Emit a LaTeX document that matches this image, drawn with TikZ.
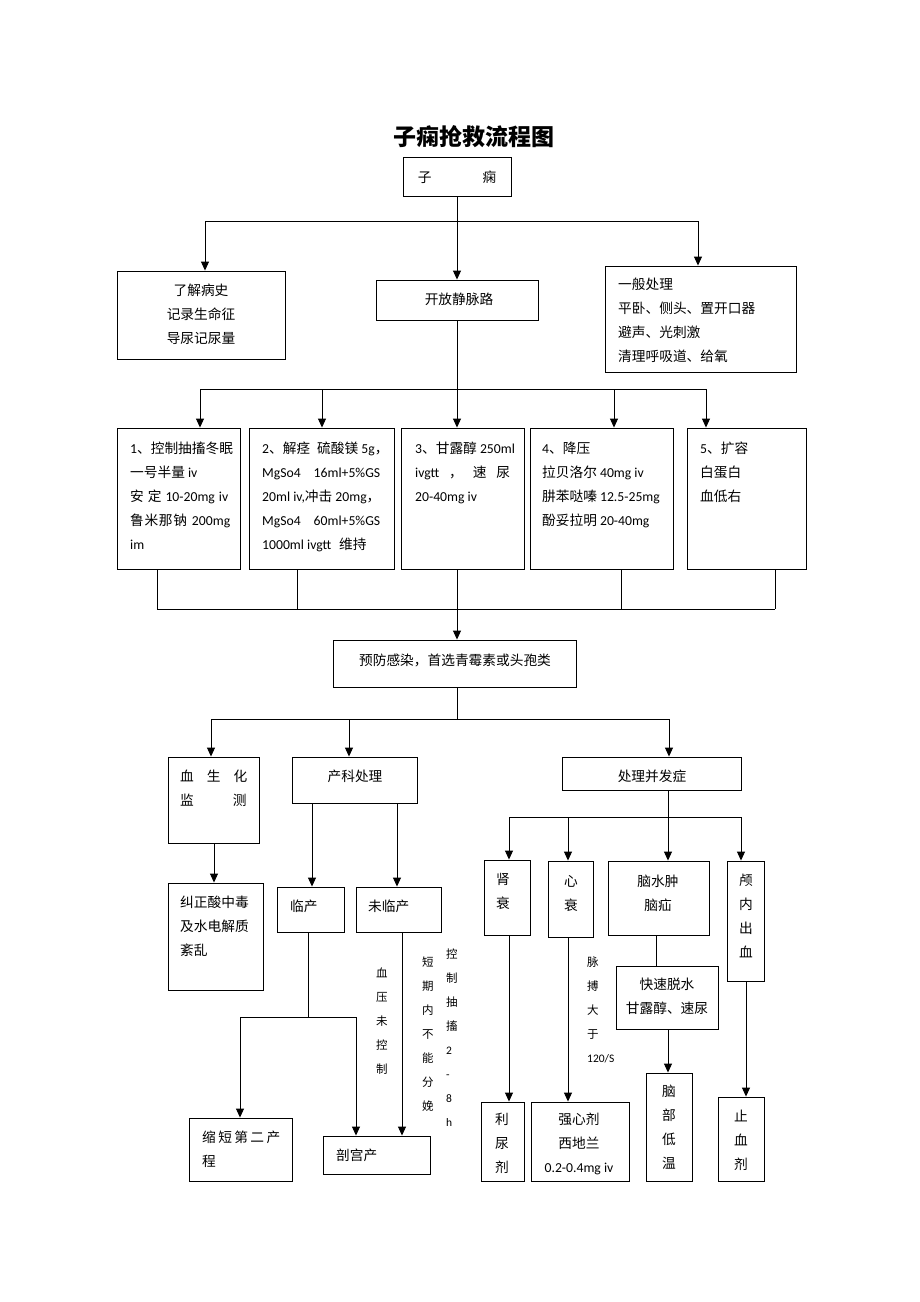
\documentclass[tikz,border=0pt]{standalone}
\usepackage{fontspec}
\setmainfont{Noto Sans CJK SC}
\newfontfamily\latf{Carlito}
\newcommand\LT[1]{{\latf #1}}
\usetikzlibrary{arrows.meta,fit}
\begin{document}
\begin{tikzpicture}[x=1pt,y=-1pt,
  bx/.style={draw, line width=0.9pt, inner sep=0pt},
  arr/.style={line width=1pt, -{Triangle[length=9pt,width=8pt]}},
  ln/.style={line width=1pt},
  txt/.style={inner sep=0pt, anchor=north, yshift=11.6pt, align=center, font=\fontsize{13.7}{24}\selectfont},
  txtl/.style={txt, anchor=north west, align=left},
  vtx/.style={txtl, font=\fontsize{11.5}{24}\selectfont}
  ]
\fill[white] (0,0) rectangle (920,1302);
\useasboundingbox (0,0) rectangle (920,1302);

% title
\node[inner sep=0pt, font=\fontsize{23}{28}\bfseries\selectfont] (title) at (474,137) {子痫抢救流程图};

% boxes
\node[bx, fit={(403,157)(511,196)}] (zi) {};
\node[bx, fit={(117,271)(285,359)}] (liao) {};
\node[bx, fit={(376,280)(538,320)}] (kai) {};
\node[bx, fit={(605,266)(796,372)}] (yiban) {};
\node[bx, fit={(117,428)(240,569)}] (b1) {};
\node[bx, fit={(249,428)(394,569)}] (b2) {};
\node[bx, fit={(401,428)(524,569)}] (b3) {};
\node[bx, fit={(530,428)(673,569)}] (b4) {};
\node[bx, fit={(687,428)(806,569)}] (b5) {};
\node[bx, fit={(333,640)(576,687)}] (yu) {};
\node[bx, fit={(168,757)(259,843)}] (xue) {};
\node[bx, fit={(292,757)(417,803)}] (chan) {};
\node[bx, fit={(562,757)(741,790)}] (chuli) {};
\node[bx, fit={(168,883)(263,990)}] (jiu) {};
\node[bx, fit={(277,887)(344,932)}] (lin) {};
\node[bx, fit={(356,887)(441,932)}] (wei) {};
\node[bx, fit={(189,1118)(292,1181)}] (suo) {};
\node[bx, fit={(323,1136)(430,1174)}] (pou) {};
\node[bx, fit={(484,860)(530,935)}] (shen) {};
\node[bx, fit={(548,861)(593,937)}] (xin) {};
\node[bx, fit={(608,861)(709,935)}] (nao) {};
\node[bx, fit={(727,861)(764,981)}] (lu) {};
\node[bx, fit={(481,1102)(524,1181)}] (li) {};
\node[bx, fit={(531,1102)(629,1181)}] (qiang) {};
\node[bx, fit={(616,966)(718,1029)}] (kuai) {};
\node[bx, fit={(646,1073)(692,1181)}] (naobu) {};
\node[bx, fit={(718,1097)(764,1181)}] (zhi) {};

% texts
\node[txt] at (457,177) {\strut 子\hspace{51pt}痫};
\node[txt] at (201,290) {\strut 了解病史\\记录生命征\\导尿记尿量};
\node[txt] at (459,299) {\strut 开放静脉路};
\node[txtl] at (618,284) {\strut 一般处理\\平卧、侧头、置开口器\\避声、光刺激\\清理呼吸道、给氧};
\node[txtl] at (130,448) {\strut\LT{1}、控制抽搐冬眠\\一号半量 \LT{iv}\\\makebox[98pt][s]{安\hfil 定\hfil\LT{10-20mg}\hfil\LT{iv}}\\\makebox[100pt][s]{鲁\hfil 米\hfil 那\hfil 钠\hspace{5pt}\LT{200mg}}\\\LT{im}};
\node[txtl] at (262,448) {\strut\LT{2}、解痉\hspace{7pt}硫酸镁 \LT{5g}，\\\makebox[118pt][s]{\LT{MgSo4}\hfil\LT{16ml+5\%GS}}\\\LT{20ml iv,}冲击 \LT{20mg}，\\\makebox[118pt][s]{\LT{MgSo4}\hfil\LT{60ml+5\%GS}}\\\LT{1000ml ivgtt}\hspace{8pt}维持};
\node[txtl] at (415,448) {\strut\LT{3}、甘露醇 \LT{250ml}\\\makebox[95pt][s]{\LT{ivgtt}\hfil，\hfil 速\hfil 尿}\\\LT{20-40mg iv}};
\node[txtl] at (542,448) {\strut\LT{4}、降压\\拉贝洛尔 \LT{40mg iv}\\肼苯哒嗪 \LT{12.5-25mg}\\酚妥拉明 \LT{20-40mg}};
\node[txtl] at (700,448) {\strut\LT{5}、扩容\\白蛋白\\血低右};
\node[txt] at (455,660) {\strut 预防感染，首选青霉素或头孢类};
\node[txtl] at (180,776) {\strut 血\hspace{13pt}生\hspace{13pt}化\\监\hspace{39pt}测};
\node[txt] at (355,776) {\strut 产科处理};
\node[txt] at (652,776) {\strut 处理并发症};
\node[txtl] at (180,902) {\strut 纠正酸中毒\\及水电解质\\紊乱};
\node[txtl] at (290,906) {\strut 临产};
\node[txtl] at (368,906) {\strut 未临产};
\node[txtl] at (202,1137) {\strut 缩\hspace{2.4pt}短\hspace{2.4pt}第\hspace{2.4pt}二\hspace{2.4pt}产\\程};
\node[txtl] at (336,1155) {\strut 剖宫产};
\node[vtx] at (376,972) {\strut 血\\压\\未\\控\\制};
\node[vtx] at (422,961) {\strut 短\\期\\内\\不\\能\\分\\娩};
\node[vtx] at (446,953) {\strut 控\\制\\抽\\搐\\\LT{2}\\\LT{-}\\\LT{8}\\\LT{h}};
\node[txt] at (503,879) {\strut 肾\\衰};
\node[txt] at (571,881) {\strut 心\\衰};
\node[txt] at (658,881) {\strut 脑水肿\\脑疝};
\node[txt] at (746,880) {\strut 颅\\内\\出\\血};
\node[txt] at (502,1119) {\strut 利\\尿\\剂};
\node[txt] at (579,1119) {\strut 强心剂\\西地兰\\\LT{0.2-0.4mg iv}};
\node[vtx] at (587,961) {\strut 脉\\搏\\大\\于\\\LT{120/S}};
\node[txt] at (667,984) {\strut 快速脱水\\甘露醇、速尿};
\node[txt] at (669,1091) {\strut 脑\\部\\低\\温};
\node[txt] at (741,1116) {\strut 止\\血\\剂};

% connectors: top
\coordinate (t1) at (457,221);
\coordinate (t1l) at (205,221);
\coordinate (t1r) at (698,221);
\draw[ln] (zi.south) -- (t1);
\draw[ln] (t1l) -- (t1r);
\draw[arr] (t1l) -- (t1l |- liao.north);
\draw[arr] (t1) -- (kai.north);
\draw[arr] (t1r) -- (t1r |- yiban.north);

% second level
\coordinate (t2) at (457,389);
\coordinate (a1) at (200,389);
\coordinate (a2) at (322,389);
\coordinate (a4) at (614,389);
\coordinate (a5) at (706,389);
\draw[ln] (kai.south) -- (t2);
\draw[ln] (a1) -- (a5);
\draw[arr] (a1) -- (a1 |- b1.north);
\draw[arr] (a2) -- (a2 |- b2.north);
\draw[arr] (t2) -- (t2 |- b3.north);
\draw[arr] (a4) -- (a4 |- b4.north);
\draw[arr] (a5) -- (a5 |- b5.north);

% collector
\coordinate (c1) at (157,609);
\coordinate (c2) at (297,609);
\coordinate (c3) at (457,609);
\coordinate (c4) at (621,609);
\coordinate (c5) at (775,609);
\draw[ln] (c1 |- b1.south) -- (c1);
\draw[ln] (c2 |- b2.south) -- (c2);
\draw[ln] (c3 |- b3.south) -- (c3);
\draw[ln] (c4 |- b4.south) -- (c4);
\draw[ln] (c5 |- b5.south) -- (c5);
\draw[ln] (c1) -- (c5);
\draw[arr] (c3) -- (c3 |- yu.north);

% after yu
\coordinate (d) at (457,719);
\coordinate (dl) at (211,719);
\coordinate (dm) at (349,719);
\coordinate (dr) at (669,719);
\draw[ln] (d |- yu.south) -- (d);
\draw[ln] (dl) -- (dr);
\draw[arr] (dl) -- (dl |- xue.north);
\draw[arr] (dm) -- (dm |- chan.north);
\draw[arr] (dr) -- (dr |- chuli.north);

% left branch
\coordinate (e1) at (214,0);
\draw[arr] (e1 |- xue.south) -- (e1 |- jiu.north);
\coordinate (e2) at (312,0);
\coordinate (e3) at (397,0);
\draw[arr] (e2 |- chan.south) -- (e2 |- lin.north);
\draw[arr] (e3 |- chan.south) -- (e3 |- wei.north);
\coordinate (f) at (308,1017);
\coordinate (fl) at (240,1017);
\coordinate (fr) at (356,1017);
\draw[ln] (f |- lin.south) -- (f);
\draw[ln] (fl) -- (fr);
\draw[arr] (fl) -- (fl |- suo.north);
\draw[arr] (fr) -- (fr |- pou.north);
\coordinate (e4) at (402,0);
\draw[arr] (e4 |- wei.south) -- (e4 |- pou.north);

% right branch
\coordinate (g) at (668,817);
\coordinate (gl) at (509,817);
\coordinate (g2) at (568,817);
\coordinate (gr) at (741,817);
\draw[ln] (g |- chuli.south) -- (g);
\draw[ln] (gl) -- (gr);
\draw[arr] (gl) -- (gl |- shen.north);
\draw[arr] (g2) -- (g2 |- xin.north);
\draw[arr] (g) -- (g |- nao.north);
\draw[arr] (gr) -- (gr |- lu.north);
\draw[arr] (gl |- shen.south) -- (gl |- li.north);
\draw[arr] (g2 |- xin.south) -- (g2 |- qiang.north);
\coordinate (h1) at (656,0);
\draw[ln] (h1 |- nao.south) -- (h1 |- kuai.north);
\draw[arr] (g |- kuai.south) -- (g |- naobu.north);
\coordinate (h2) at (746,0);
\draw[arr] (h2 |- lu.south) -- (h2 |- zhi.north);
\end{tikzpicture}
\end{document}
